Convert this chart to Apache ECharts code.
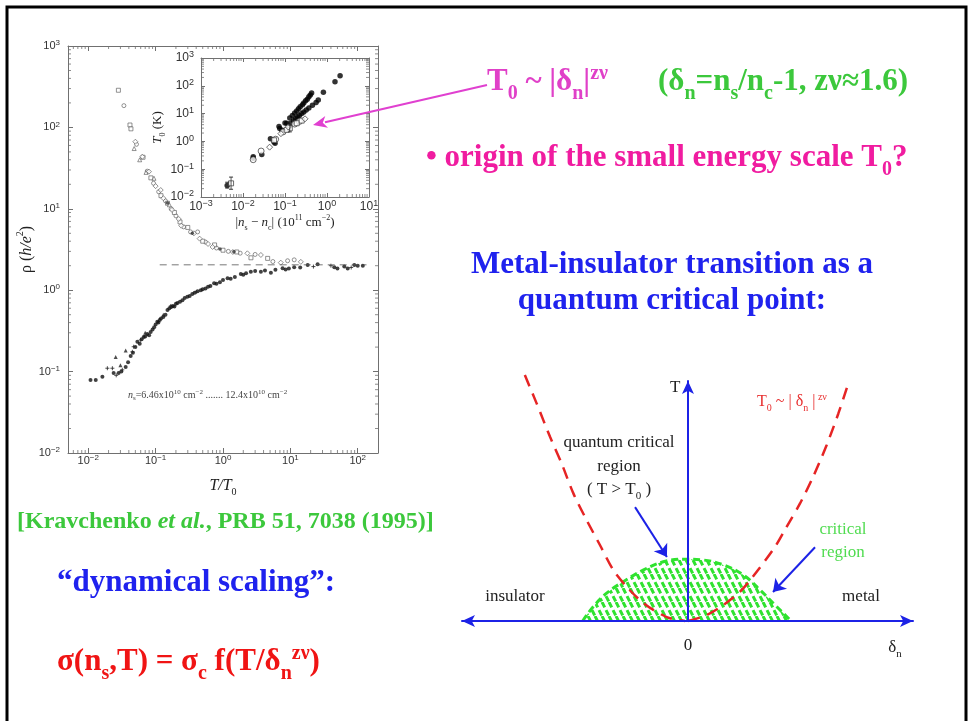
<!DOCTYPE html>
<html>
<head>
<meta charset="utf-8">
<script src="https://cdn.jsdelivr.net/npm/echarts@6.0.0/dist/echarts.min.js"></script>
<style>
html,body{margin:0;padding:0;background:#ffffff;}
#chart{width:969px;height:721px;}
</style>
</head>
<body>
<div id="chart"></div>
<script>
// ================= DATA =================
// Main panel: rho (h/e^2) versus T/T0 (log-log)
const upperOpenCircles = [[0.0338,185],[0.052,62],[0.075,29],[0.093,20.6],[0.111,16.2],[0.14,12.5],[0.17,10],[0.2,8.2],[0.26,6.0],[0.33,5.2],[0.42,5.2],[0.55,3.9],[0.8,3.3],[1.2,3.0],[1.8,2.85],[3.0,2.75],[5.5,2.25],[9.1,2.30],[11.4,2.36]];
const upperOpenSquares = [[0.028,286],[0.0416,107],[0.043,96],[0.065,43],[0.085,24],[0.12,14.5],[0.15,11.7],[0.19,9.0],[0.23,6.9],[0.3,5.9],[0.5,4.0],[0.75,3.6],[1.0,3.1],[1.6,2.95],[2.6,2.5],[4.6,2.46]];
const upperOpenDiamonds = [[0.05,66.7],[0.0635,43.6],[0.0796,28.6],[0.1,19],[0.119,17],[0.13,13.5],[0.175,9.7],[0.22,7.5],[0.24,6.2],[0.37,5.0],[0.45,4.3],[0.6,3.7],[0.7,3.4],[1.4,2.95],[2.3,2.84],[3.65,2.71],[7.2,2.18],[14.3,2.23]];
const upperOpenTriangles = [[0.048,55],[0.058,40],[0.072,28],[0.0945,23.7],[0.16,11.2]];
const upperFilled = [[0.35,5.0],[0.9,3.2],[1.45,2.97],[0.15,11.8]];
const lowerFilled = [[0.0108,0.079],[0.0129,0.079],[0.0162,0.0865],[0.0238,0.096],[0.0282,0.096],[0.031,0.1],[0.0359,0.114],[0.039,0.13],[0.0426,0.156],[0.046,0.17],[0.05,0.2],[0.0536,0.233],[0.058,0.22],[0.062,0.25],[0.0664,0.266],[0.07,0.27],[0.075,0.29],[0.08,0.28],[0.0844,0.306],[0.09,0.33],[0.095,0.35],[0.1,0.38],[0.106,0.41],[0.11,0.4],[0.115,0.43],[0.12,0.45],[0.13,0.47],[0.14,0.5],[0.15,0.571],[0.16,0.6],[0.17,0.62],[0.18,0.64],[0.19,0.63],[0.2,0.68],[0.211,0.697],[0.23,0.72],[0.25,0.75],[0.27,0.8],[0.296,0.832],[0.32,0.85],[0.35,0.9],[0.38,0.93],[0.42,0.97],[0.468,1.0],[0.5,1.03],[0.55,1.05],[0.6,1.1],[0.65,1.13],[0.738,1.22],[0.8,1.2],[0.9,1.25],[1.0,1.33],[1.17,1.40],[1.3,1.38],[1.5,1.45],[1.84,1.58],[2.0,1.55],[2.2,1.62],[2.59,1.69],[3.0,1.72],[3.65,1.69],[4.2,1.74],[5.14,1.64],[6.0,1.78],[7.67,1.86],[8.5,1.8],[9.5,1.85],[11.4,1.91],[14,1.9],[18.1,2.04],[25.4,2.08],[44.9,1.91],[50,1.85],[63.2,1.95],[71,1.85],[89,2.04],[100,2.0],[119,2.0]];
const lowerPlus = [[0.0192,0.11],[0.0228,0.11],[0.026,0.09],[0.032,0.105],[0.0451,0.175],[0.0472,0.202],[0.06,0.244],[0.168,0.64],[0.4,0.95],[22,1.95],[40,2.0],[80,1.9]];
const lowerTriangles = [[0.0255,0.151],[0.0359,0.181],[0.03,0.12],[0.07,0.3],[0.13,0.5]];
const separatrix = [[0.115,2.05],[135,2.05]];

// Inset: T0 (K) versus |ns - nc| (1e11 cm^-2)
const insetFilled = [[0.0042,0.026],[0.0175,0.28],[0.0175,0.25],[0.028,0.34],[0.045,1.25],[0.055,0.95],[0.058,0.85],[0.072,3.4],[0.075,2.9],[0.085,2.5],[0.1,4.6],[0.11,4.5],[0.13,7],[0.14,4.6],[0.15,8.5],[0.17,10.5],[0.19,12.5],[0.21,15],[0.23,17.5],[0.26,21],[0.28,24],[0.31,29],[0.34,33],[0.37,40],[0.40,47],[0.43,55],[0.16,5.5],[0.18,6.5],[0.2,7.5],[0.22,8.5],[0.25,10],[0.28,11.5],[0.32,13.5],[0.37,16],[0.45,20],[0.55,25],[0.62,31],[0.82,59],[1.55,140],[2.05,230]];
const insetOpenCircles = [[0.027,0.45],[0.0175,0.22],[0.06,1.2],[0.09,2.2],[0.17,4.2],[0.22,5.2]];
const insetOpenSquares = [[0.0052,0.031],[0.055,1.1],[0.13,2.96],[0.19,4.5],[0.25,5.6],[0.11,2.6]];
const insetOpenDiamonds = [[0.043,0.62],[0.08,1.9],[0.12,3.3],[0.3,6.5]];
const insetErrorBars = [[0.0042,0.021,0.034],[0.0052,0.019,0.052],[0.13,2.2,3.9]]; // [x, low, high]

// Right: phase diagram (delta_n, T) in arbitrary units
const crossoverLeft = [[-0.706,1.0],[-0.655,0.885],[-0.597,0.749],[-0.547,0.641],[-0.496,0.519],[-0.439,0.411],[-0.381,0.309],[-0.323,0.207],[-0.265,0.139],[-0.208,0.085],[-0.15,0.045],[-0.078,0.011],[-0.013,0]];
const crossoverRight = [[0.001,0],[0.081,0.024],[0.153,0.065],[0.225,0.119],[0.276,0.174],[0.377,0.302],[0.427,0.383],[0.485,0.478],[0.542,0.587],[0.6,0.715],[0.651,0.844],[0.694,0.966]];
const criticalDome = [[-0.455,0],[-0.453,0.004],[-0.41,0.058],[-0.352,0.113],[-0.28,0.16],[-0.194,0.207],[-0.107,0.241],[-0.02,0.251],[0.066,0.248],[0.153,0.228],[0.24,0.187],[0.312,0.126],[0.377,0.065],[0.442,0.004],[0.445,0]];
const diagramArrows = [[[-0.229,0.463],[-0.091,0.26]],[[0.55,0.30],[0.368,0.118]]];

// Axis ranges / tick labels
const mainX = [0.005, 200], mainY = [0.01, 1000];
const insetX = [0.001, 10], insetY = [0.01, 1000];
const minorMultipliers = [2,3,4,5,6,7,8,9];

// ================= STYLE HELPERS =================
const SERIF = '"Liberation Serif", "Times New Roman", serif';
const SANS = '"Liberation Sans", Arial, sans-serif';
const AXG = '#707070';

function zRich(key, size, color, weight, fstyle) {
  const w = weight || 'normal', st = fstyle || 'normal';
  const small = Math.round(size * 0.65);
  const r = {};
  r[key] = {fill: color, font: st + ' ' + w + ' ' + size + 'px ' + SERIF, lineHeight: Math.round(size * 1.42), verticalAlign: 'middle'};
  r[key + 's'] = {fill: color, font: st + ' ' + w + ' ' + small + 'px ' + SERIF, lineHeight: small, verticalAlign: 'bottom'};
  r[key + 'p'] = {fill: color, font: st + ' ' + w + ' ' + small + 'px ' + SERIF, lineHeight: small, verticalAlign: 'top', padding: [Math.round(size * 0.13), 0, 0, 0]};
  r[key + 'i'] = {fill: color, font: 'italic ' + w + ' ' + size + 'px ' + SERIF, lineHeight: Math.round(size * 1.42), verticalAlign: 'middle'};
  return r;
}
function txt(x, y, text, rich, align) {
  return {type: 'text', x: x, y: y, z: 100, silent: true,
    style: {text: text, rich: rich, align: align || 'left', verticalAlign: 'middle', font: '12px ' + SERIF, fill: '#000'}};
}
function decadeFormatter(v) {
  const lg = Math.log10(v), e = Math.round(lg);
  if (Math.abs(lg - e) > 1e-6) return '';
  return '{b|10}{s|' + (e < 0 ? '\u2212' + (-e) : e) + '}';
}
function labelRich(size) {
  return {
    b: {fontSize: size, fontFamily: SANS, color: '#333', lineHeight: size + 3, verticalAlign: 'middle'},
    s: {fontSize: Math.round(size * 0.72), fontFamily: SANS, color: '#333', verticalAlign: 'top'}
  };
}
function frameAxis(o) {
  return Object.assign({
    type: 'log', logBase: 10,
    axisLine: {show: true, onZero: false, lineStyle: {color: AXG, width: 1}},
    axisTick: {show: true, inside: true, length: 5, lineStyle: {color: AXG, width: 1}},
    axisLabel: {show: false},
    splitLine: {show: false}
  }, o);
}
function minorValues(lo, hi) {
  const out = [];
  for (let d = Math.floor(Math.log10(lo)) - 1; d <= Math.ceil(Math.log10(hi)); d++) {
    minorMultipliers.forEach(function (m) {
      const v = m * Math.pow(10, d);
      if (v > lo * 1.0001 && v < hi * 0.9999) out.push(v);
    });
  }
  return out;
}
function tickSeries(xi, yi, xr, yr) {
  const xs = minorValues(xr[0], xr[1]), ys = minorValues(yr[0], yr[1]);
  const base = {type: 'scatter', xAxisIndex: xi, yAxisIndex: yi, symbol: 'rect', silent: true, clip: false,
    itemStyle: {color: AXG}, z: 5};
  return [
    Object.assign({}, base, {data: xs.map(v => [v, yr[0]]), symbolSize: [1, 3], symbolOffset: [0, -1.5]}),
    Object.assign({}, base, {data: xs.map(v => [v, yr[1]]), symbolSize: [1, 3], symbolOffset: [0, 1.5]}),
    Object.assign({}, base, {data: ys.map(v => [xr[0], v]), symbolSize: [3, 1], symbolOffset: [1.5, 0]}),
    Object.assign({}, base, {data: ys.map(v => [xr[1], v]), symbolSize: [3, 1], symbolOffset: [-1.5, 0]})
  ];
}

// hatch pattern for the critical region
const hatch = document.createElement('canvas');
hatch.width = 14; hatch.height = 14;
(function () {
  const c = hatch.getContext('2d');
  c.strokeStyle = '#2fe22f'; c.lineWidth = 3; c.setLineDash([6, 3]);
  [-14, -7, 0, 7, 14].forEach(function (a) {
    c.beginPath(); c.moveTo(a, 0); c.lineTo(a + 7, 14); c.stroke();
  });
})();

// ================= CHART =================
const chart = echarts.init(document.getElementById('chart'), null, {renderer: 'canvas'});

const openStyle = {color: '#ffffff', borderColor: '#555', borderWidth: 0.8};
const plusPath = 'path://M0,5L10,5M5,0L5,10';

const series = [
  {type: 'scatter', xAxisIndex: 0, yAxisIndex: 0, data: upperOpenCircles, symbol: 'circle', symbolSize: 4, itemStyle: openStyle},
  {type: 'scatter', xAxisIndex: 0, yAxisIndex: 0, data: upperOpenSquares, symbol: 'rect', symbolSize: 4, itemStyle: openStyle},
  {type: 'scatter', xAxisIndex: 0, yAxisIndex: 0, data: upperOpenDiamonds, symbol: 'diamond', symbolSize: 5, itemStyle: openStyle},
  {type: 'scatter', xAxisIndex: 0, yAxisIndex: 0, data: upperOpenTriangles, symbol: 'triangle', symbolSize: 4, itemStyle: openStyle},
  {type: 'scatter', xAxisIndex: 0, yAxisIndex: 0, data: upperFilled, symbol: 'circle', symbolSize: 3.5, itemStyle: {color: '#333'}},
  {type: 'scatter', xAxisIndex: 0, yAxisIndex: 0, data: lowerFilled, symbol: 'circle', symbolSize: 4, itemStyle: {color: '#111'}},
  {type: 'scatter', xAxisIndex: 0, yAxisIndex: 0, data: lowerPlus, symbol: plusPath, symbolSize: 4, itemStyle: {color: 'none', borderColor: '#222', borderWidth: 1}},
  {type: 'scatter', xAxisIndex: 0, yAxisIndex: 0, data: lowerTriangles, symbol: 'triangle', symbolSize: 4, itemStyle: {color: '#222'}},
  {type: 'line', xAxisIndex: 0, yAxisIndex: 0, data: separatrix, symbol: 'none', lineStyle: {color: '#555', width: 0.8, type: [7, 5]}},
  // inset
  {type: 'scatter', xAxisIndex: 2, yAxisIndex: 2, data: insetFilled, symbol: 'circle', symbolSize: 5.5, itemStyle: {color: '#000'}},
  {type: 'scatter', xAxisIndex: 2, yAxisIndex: 2, data: insetOpenCircles, symbol: 'circle', symbolSize: 6, itemStyle: {color: '#fff', borderColor: '#333', borderWidth: 0.9}},
  {type: 'scatter', xAxisIndex: 2, yAxisIndex: 2, data: insetOpenSquares, symbol: 'rect', symbolSize: 5, itemStyle: {color: '#fff', borderColor: '#333', borderWidth: 0.9}},
  {type: 'scatter', xAxisIndex: 2, yAxisIndex: 2, data: insetOpenDiamonds, symbol: 'diamond', symbolSize: 6, itemStyle: {color: '#fff', borderColor: '#333', borderWidth: 0.9}},
  // diagram
  {type: 'line', xAxisIndex: 4, yAxisIndex: 4, data: criticalDome, smooth: 0.4, symbol: 'none', clip: false, z: 2,
    lineStyle: {color: '#2fe22f', width: 3, type: [7, 4]},
    areaStyle: {color: {image: hatch, repeat: 'repeat'}, opacity: 1}},
  {type: 'line', xAxisIndex: 4, yAxisIndex: 4, data: crossoverLeft, smooth: 0.3, symbol: 'none', clip: false, z: 3,
    lineStyle: {color: '#e62424', width: 2.5, type: [12, 8]}},
  {type: 'line', xAxisIndex: 4, yAxisIndex: 4, data: crossoverRight, smooth: 0.3, symbol: 'none', clip: false, z: 3,
    lineStyle: {color: '#e62424', width: 2.5, type: [12, 8]}},
  {type: 'lines', coordinateSystem: 'cartesian2d', xAxisIndex: 4, yAxisIndex: 4, z: 4,
    symbol: ['none', 'arrow'], symbolSize: 12,
    lineStyle: {color: '#1c22e6', width: 2, opacity: 1, curveness: 0},
    data: diagramArrows.map(c => ({coords: c}))}
];
insetErrorBars.forEach(function (e) {
  series.push({type: 'line', xAxisIndex: 2, yAxisIndex: 2, data: [[e[0], e[1]], [e[0], e[2]]],
    symbol: 'rect', symbolSize: [4, 1], showSymbol: true, itemStyle: {color: '#333'}, lineStyle: {color: '#333', width: 0.8}});
});
tickSeries(0, 0, mainX, mainY).forEach(s => series.push(s));
tickSeries(2, 2, insetX, insetY).forEach(s => series.push(s));

const option = {
  animation: false,
  backgroundColor: '#ffffff',
  textStyle: {fontFamily: SANS},
  grid: [
    {left: 68, top: 46, width: 310, height: 407, outerBoundsMode: 'none', containLabel: false},
    {left: 201, top: 58, width: 168, height: 139, outerBoundsMode: 'none', containLabel: false},
    {left: 462, top: 381, width: 451, height: 240, outerBoundsMode: 'none', containLabel: false}
  ],
  xAxis: [
    frameAxis({gridIndex: 0, position: 'bottom', min: mainX[0], max: mainX[1],
      axisLabel: {show: true, margin: 1, interval: 0, formatter: decadeFormatter, rich: labelRich(11)},
      name: '{i|T/T}{s|0}', nameLocation: 'middle', nameGap: 22,
      nameTextStyle: {rich: {
        i: {fontFamily: SERIF, fontStyle: 'italic', fontSize: 16, color: '#222', lineHeight: 22, verticalAlign: 'middle'},
        s: {fontFamily: SERIF, fontSize: 10, color: '#222', verticalAlign: 'bottom'}}}}),
    frameAxis({gridIndex: 0, position: 'top', min: mainX[0], max: mainX[1]}),
    frameAxis({gridIndex: 1, position: 'bottom', min: insetX[0], max: insetX[1],
      axisTick: {show: true, inside: true, length: 4, lineStyle: {color: AXG}},
      axisLabel: {show: true, margin: 2, interval: 0, formatter: decadeFormatter, rich: labelRich(12)},
      name: '{b||}{i|n}{s|s}{b| \u2212 }{i|n}{s|c}{b|| (10}{p|11}{b| cm}{p|\u22122}{b|)}', nameLocation: 'middle', nameGap: 17,
      nameTextStyle: {rich: {
        b: {fontFamily: SERIF, fontSize: 13, color: '#222', lineHeight: 18, verticalAlign: 'middle'},
        i: {fontFamily: SERIF, fontStyle: 'italic', fontSize: 13, color: '#222', lineHeight: 18, verticalAlign: 'middle'},
        s: {fontFamily: SERIF, fontSize: 8, color: '#222', verticalAlign: 'bottom'},
        p: {fontFamily: SERIF, fontSize: 8, color: '#222', verticalAlign: 'top'}}}}),
    frameAxis({gridIndex: 1, position: 'top', min: insetX[0], max: insetX[1],
      axisTick: {show: true, inside: true, length: 4, lineStyle: {color: AXG}}}),
    {type: 'value', gridIndex: 2, min: -0.978, max: 0.974, z: 10,
      axisLine: {show: true, onZero: true, symbol: ['arrow', 'arrow'], symbolSize: [9, 13], lineStyle: {color: '#1c22e6', width: 2}},
      axisTick: {show: false}, axisLabel: {show: false}, splitLine: {show: false}}
  ],
  yAxis: [
    frameAxis({gridIndex: 0, position: 'left', min: mainY[0], max: mainY[1],
      axisLabel: {show: true, margin: 8, interval: 0, formatter: decadeFormatter, rich: labelRich(11)},
      name: '{n|\u03c1 (}{i|h/e}{p|2}{n|)}', nameLocation: 'middle', nameGap: 30, nameRotate: 90,
      nameTextStyle: {rich: {
        n: {fontFamily: SERIF, fontSize: 16, color: '#222', lineHeight: 22, verticalAlign: 'middle'},
        i: {fontFamily: SERIF, fontStyle: 'italic', fontSize: 16, color: '#222', lineHeight: 22, verticalAlign: 'middle'},
        p: {fontFamily: SERIF, fontSize: 10, color: '#222', verticalAlign: 'top'}}}}),
    frameAxis({gridIndex: 0, position: 'right', min: mainY[0], max: mainY[1]}),
    frameAxis({gridIndex: 1, position: 'left', min: insetY[0], max: insetY[1],
      axisTick: {show: true, inside: true, length: 4, lineStyle: {color: AXG}},
      axisLabel: {show: true, margin: 7, interval: 0, formatter: decadeFormatter, rich: labelRich(12)},
      name: '{i|T}{s|0}{b| (K)}', nameLocation: 'middle', nameGap: 28, nameRotate: 90,
      nameTextStyle: {rich: {
        b: {fontFamily: SERIF, fontSize: 13, color: '#222', lineHeight: 18, verticalAlign: 'middle'},
        i: {fontFamily: SERIF, fontStyle: 'italic', fontSize: 13, color: '#222', lineHeight: 18, verticalAlign: 'middle'},
        s: {fontFamily: SERIF, fontSize: 8, color: '#222', verticalAlign: 'bottom'}}}}),
    frameAxis({gridIndex: 1, position: 'right', min: insetY[0], max: insetY[1],
      axisTick: {show: true, inside: true, length: 4, lineStyle: {color: AXG}}}),
    {type: 'value', gridIndex: 2, min: 0, max: 0.976, z: 10,
      axisLine: {show: true, onZero: true, symbol: ['none', 'arrow'], symbolSize: [9, 13], lineStyle: {color: '#1c22e6', width: 2}},
      axisTick: {show: false}, axisLabel: {show: false}, splitLine: {show: false}}
  ],
  series: series,
  graphic: {elements: [
    {type: 'rect', z: 100, silent: true, shape: {x: 7, y: 7, width: 959, height: 800}, style: {fill: 'none', stroke: '#000', lineWidth: 3}},
    // magenta pointer from the formula to the inset
    {type: 'line', z: 100, silent: true, shape: {x1: 487, y1: 85, x2: 325, y2: 122.3}, style: {stroke: '#e040d0', lineWidth: 2}},
    {type: 'polygon', z: 100, silent: true, shape: {points: [[313, 125], [328.0, 127.7], [322.8, 122.8], [325.3, 116.0]]}, style: {fill: '#e040d0'}},
    // slide texts
    txt(487, 82, '{mT|T}{mTs|0}{mT| ~ |\u03b4}{mTs|n}{mT||}{mTp|z\u03bd}', zRich('mT', 31, '#e040c8', 'bold')),
    txt(658, 82, '{g|(\u03b4}{gs|n}{g|=n}{gs|s}{g|/n}{gs|c}{g|-1, z\u03bd\u22481.6)}', zRich('g', 31, '#3cc83c', 'bold')),
    txt(426, 158, '{o|\u2022 origin of the small energy scale T}{os|0}{o|?}', zRich('o', 31, '#f01ca0', 'bold')),
    txt(672, 265, '{b|Metal-insulator transition as a}', zRich('b', 31, '#1f22ee', 'bold'), 'center'),
    txt(672, 301, '{b|quantum critical point:}', zRich('b', 31, '#1f22ee', 'bold'), 'center'),
    txt(17, 522, '{k|[Kravchenko }{ki|et al.}{k|, PRB 51, 7038 (1995)]}', zRich('k', 24, '#3cc83c', 'bold')),
    txt(57, 583, '{d|\u201cdynamical scaling\u201d:}', zRich('d', 31, '#1f22ee', 'bold')),
    txt(57, 662, '{r|\u03c3(n}{rs|s}{r|,T) = \u03c3}{rs|c}{r| f(T/\u03b4}{rs|n}{rp|z\u03bd}{r|)}', zRich('r', 31, '#f01414', 'bold')),
    // main-panel note
    txt(128, 395, '{ni|n}{ns|s}{n|=6.46x10}{np|10}{n| cm}{np|\u22122}{n| ....... 12.4x10}{np|10}{n| cm}{np|\u22122}', zRich('n', 10, '#444')),
    // phase diagram labels
    txt(670, 388, '{t|T}', zRich('t', 17, '#222')),
    txt(688, 646, '{t|0}', zRich('t', 17, '#222'), 'center'),
    txt(895, 648, '{t|\u03b4}{ts|n}', zRich('t', 17, '#222'), 'center'),
    txt(515, 597, '{t|insulator}', zRich('t', 17, '#222'), 'center'),
    txt(861, 597, '{t|metal}', zRich('t', 17, '#222'), 'center'),
    txt(619, 443, '{t|quantum critical}', zRich('t', 17, '#222'), 'center'),
    txt(619, 467, '{t|region}', zRich('t', 17, '#222'), 'center'),
    txt(619, 490, '{t|( T > T}{ts|0}{t| )}', zRich('t', 17, '#222'), 'center'),
    txt(843, 530, '{c|critical}', zRich('c', 17, '#50dc50'), 'center'),
    txt(843, 553, '{c|region}', zRich('c', 17, '#50dc50'), 'center'),
    txt(757, 402, '{e|T}{es|0}{e| ~ | \u03b4}{es|n}{e| |}{ep| z\u03bd}', zRich('e', 16, '#e83030'))
  ]}
};
chart.setOption(option);
</script>
</body>
</html>
